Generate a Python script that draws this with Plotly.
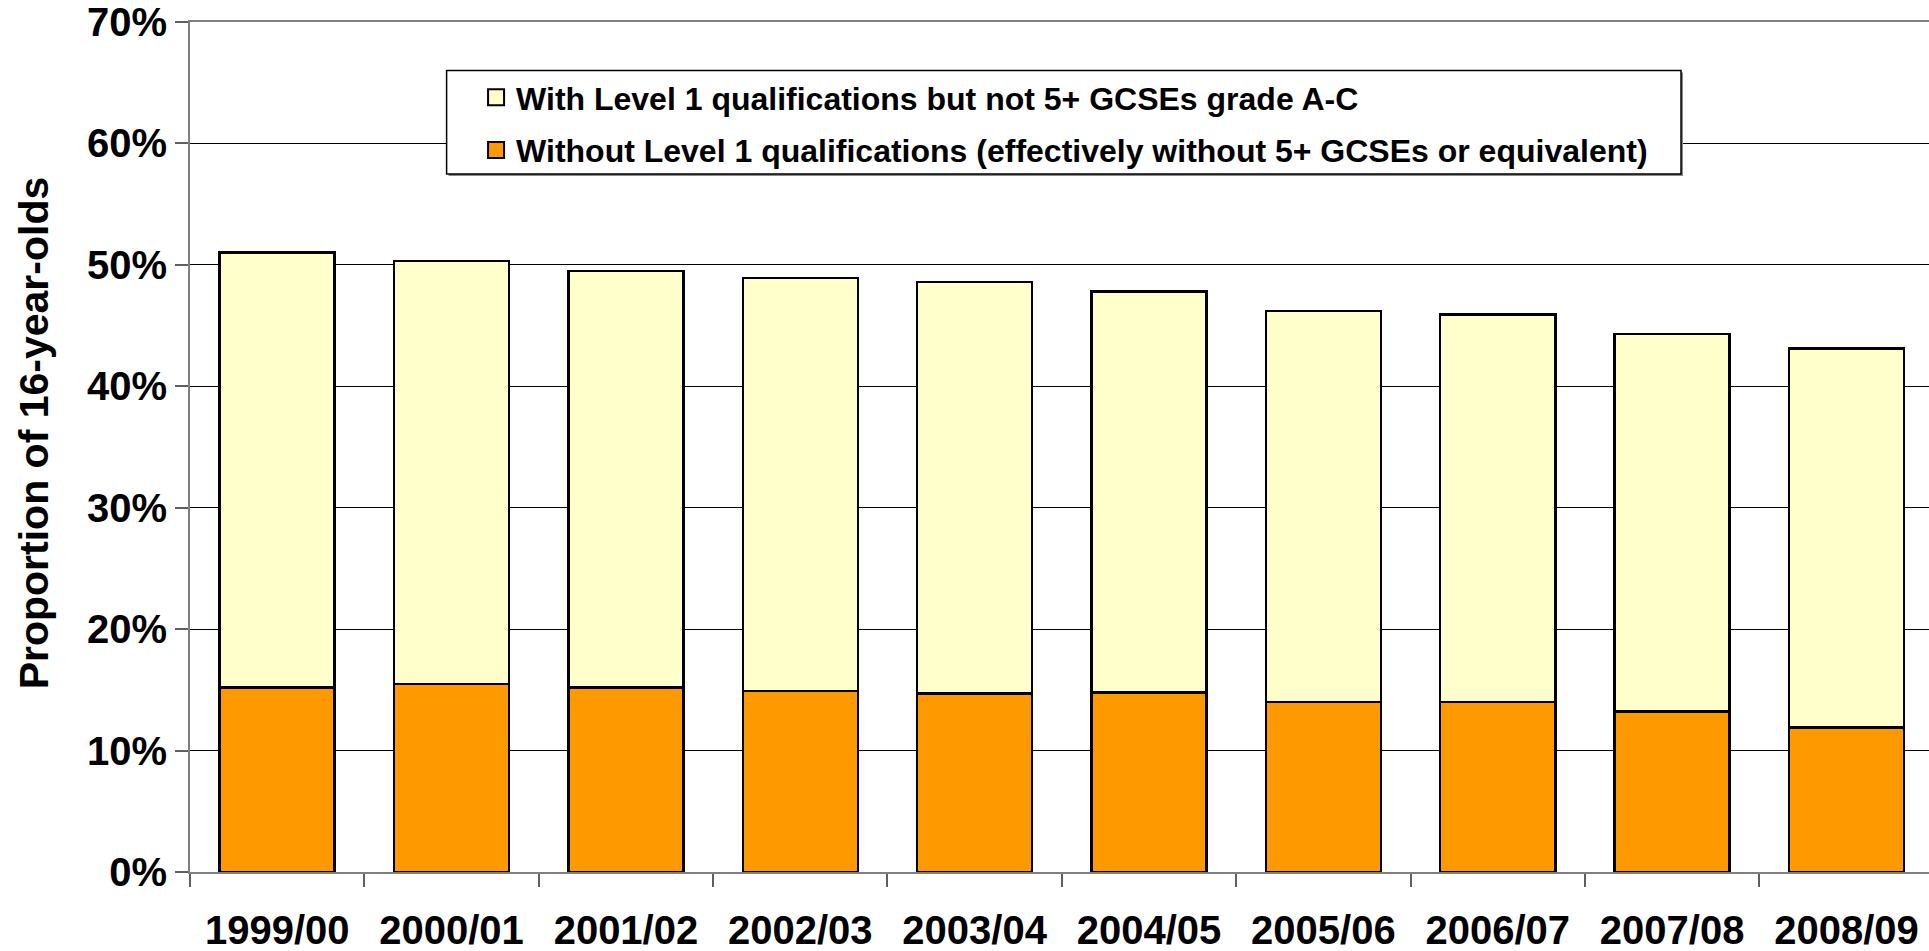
import plotly.graph_objects as go

years = ["1999/00", "2000/01", "2001/02", "2002/03", "2003/04",
         "2004/05", "2005/06", "2006/07", "2007/08", "2008/09"]
# proportion without level 1 (bottom segment, %)
without_l1 = [15.2, 15.5, 15.2, 14.9, 14.7, 14.8, 14.0, 14.0, 13.2, 11.9]
# total proportion without 5+ GCSEs A-C (top of bar, %)
total = [51.0, 50.3, 49.5, 48.9, 48.6, 47.8, 46.2, 45.9, 44.3, 43.1]
with_l1 = [round(t - w, 1) for t, w in zip(total, without_l1)]

name_without = "Without Level 1 qualifications (effectively without 5+ GCSEs or equivalent)"
name_with = "With Level 1 qualifications but not 5+ GCSEs grade A-C"

ORANGE = "#FF9900"
YELLOW = "#FFFFCC"
FONT = "Liberation Sans, Arial, sans-serif"

fig = go.Figure()
fig.add_trace(go.Bar(
    x=years, y=[v / 100 for v in without_l1], name=name_without,
    showlegend=False,
    marker=dict(color=ORANGE, line=dict(color="black", width=2.5)),
    width=0.66,
))
fig.add_trace(go.Bar(
    x=years, y=[v / 100 for v in with_l1], name=name_with,
    showlegend=False,
    marker=dict(color=YELLOW, line=dict(color="black", width=2.5)),
    width=0.66,
))
# legend entries (larger square swatches)
fig.add_trace(go.Scatter(
    x=[None], y=[None], mode="markers", name=name_with,
    legendgroup="a", legendrank=1,
    marker=dict(symbol="square", size=16, color=YELLOW, line=dict(color="black", width=2)),
))
fig.add_trace(go.Scatter(
    x=[None], y=[None], mode="markers", name=name_without,
    legendgroup="b", legendrank=2,
    marker=dict(symbol="square", size=16, color=ORANGE, line=dict(color="black", width=2)),
))

# legend frame (paper coords)
box_x0, box_x1 = 0.14756, 0.8574
box_y0, box_y1 = 0.8212, 0.9429
px_x = 1 / 1739
px_y = 1 / 850

fig.update_layout(
    barmode="stack",
    width=1929, height=951,
    margin=dict(l=190, r=0, t=22, b=79),
    plot_bgcolor="white", paper_bgcolor="white",
    font=dict(family=FONT, color="black", size=40, weight="bold"),
    showlegend=True,
    legend=dict(
        x=0.1645, y=0.9435, xanchor="left", yanchor="top",
        bgcolor="rgba(0,0,0,0)", borderwidth=0,
        traceorder="grouped", itemsizing="trace",
        font=dict(family=FONT, size=32, color="black", weight="bold"),
        tracegroupgap=8, itemwidth=30,
    ),
    shapes=[
        dict(type="rect", xref="paper", yref="paper",
             x0=box_x0 + 2 * px_x, x1=box_x1 + 2 * px_x,
             y0=box_y0 - 2 * px_y, y1=box_y1 - 2 * px_y,
             fillcolor="#888888", line=dict(width=0), layer="above"),
        dict(type="rect", xref="paper", yref="paper",
             x0=box_x0, x1=box_x1, y0=box_y0, y1=box_y1,
             fillcolor="white", line=dict(color="black", width=1.5), layer="above"),
    ],
    xaxis=dict(
        type="category", range=[-0.5, 9.473], automargin=False,
        showline=True, linecolor="#808080", linewidth=2, mirror=True,
        ticks="outside", tickson="boundaries", ticklen=13, tickcolor="#606060", tickwidth=1.5,
        ticklabelstandoff=22, ticklabeloverflow="allow",
        tickfont=dict(family=FONT, size=40, color="black", weight="bold"),
        showgrid=False,
    ),
    yaxis=dict(
        range=[0, 0.7], tickvals=[0, 0.1, 0.2, 0.3, 0.4, 0.5, 0.6, 0.7],
        tickformat=".0%", automargin=False, ticklabeloverflow="allow",
        showline=True, linecolor="#808080", linewidth=2,
        ticks="outside", ticklen=13, tickcolor="#606060", tickwidth=1.5,
        showgrid=True, gridcolor="black", gridwidth=1,
        tickfont=dict(family=FONT, size=40, color="black", weight="bold"),
        zeroline=False,
    ),
    annotations=[dict(
        text="Proportion of 16-year-olds", textangle=-90,
        xref="paper", yref="paper", x=-0.0895, y=0.5165,
        xanchor="center", yanchor="middle", showarrow=False,
        font=dict(family=FONT, size=41, color="black", weight="bold"),
    )],
)

fig.write_html("out.html", config={"displayModeBar": False},
               post_script="document.body.style.margin='0px';")
